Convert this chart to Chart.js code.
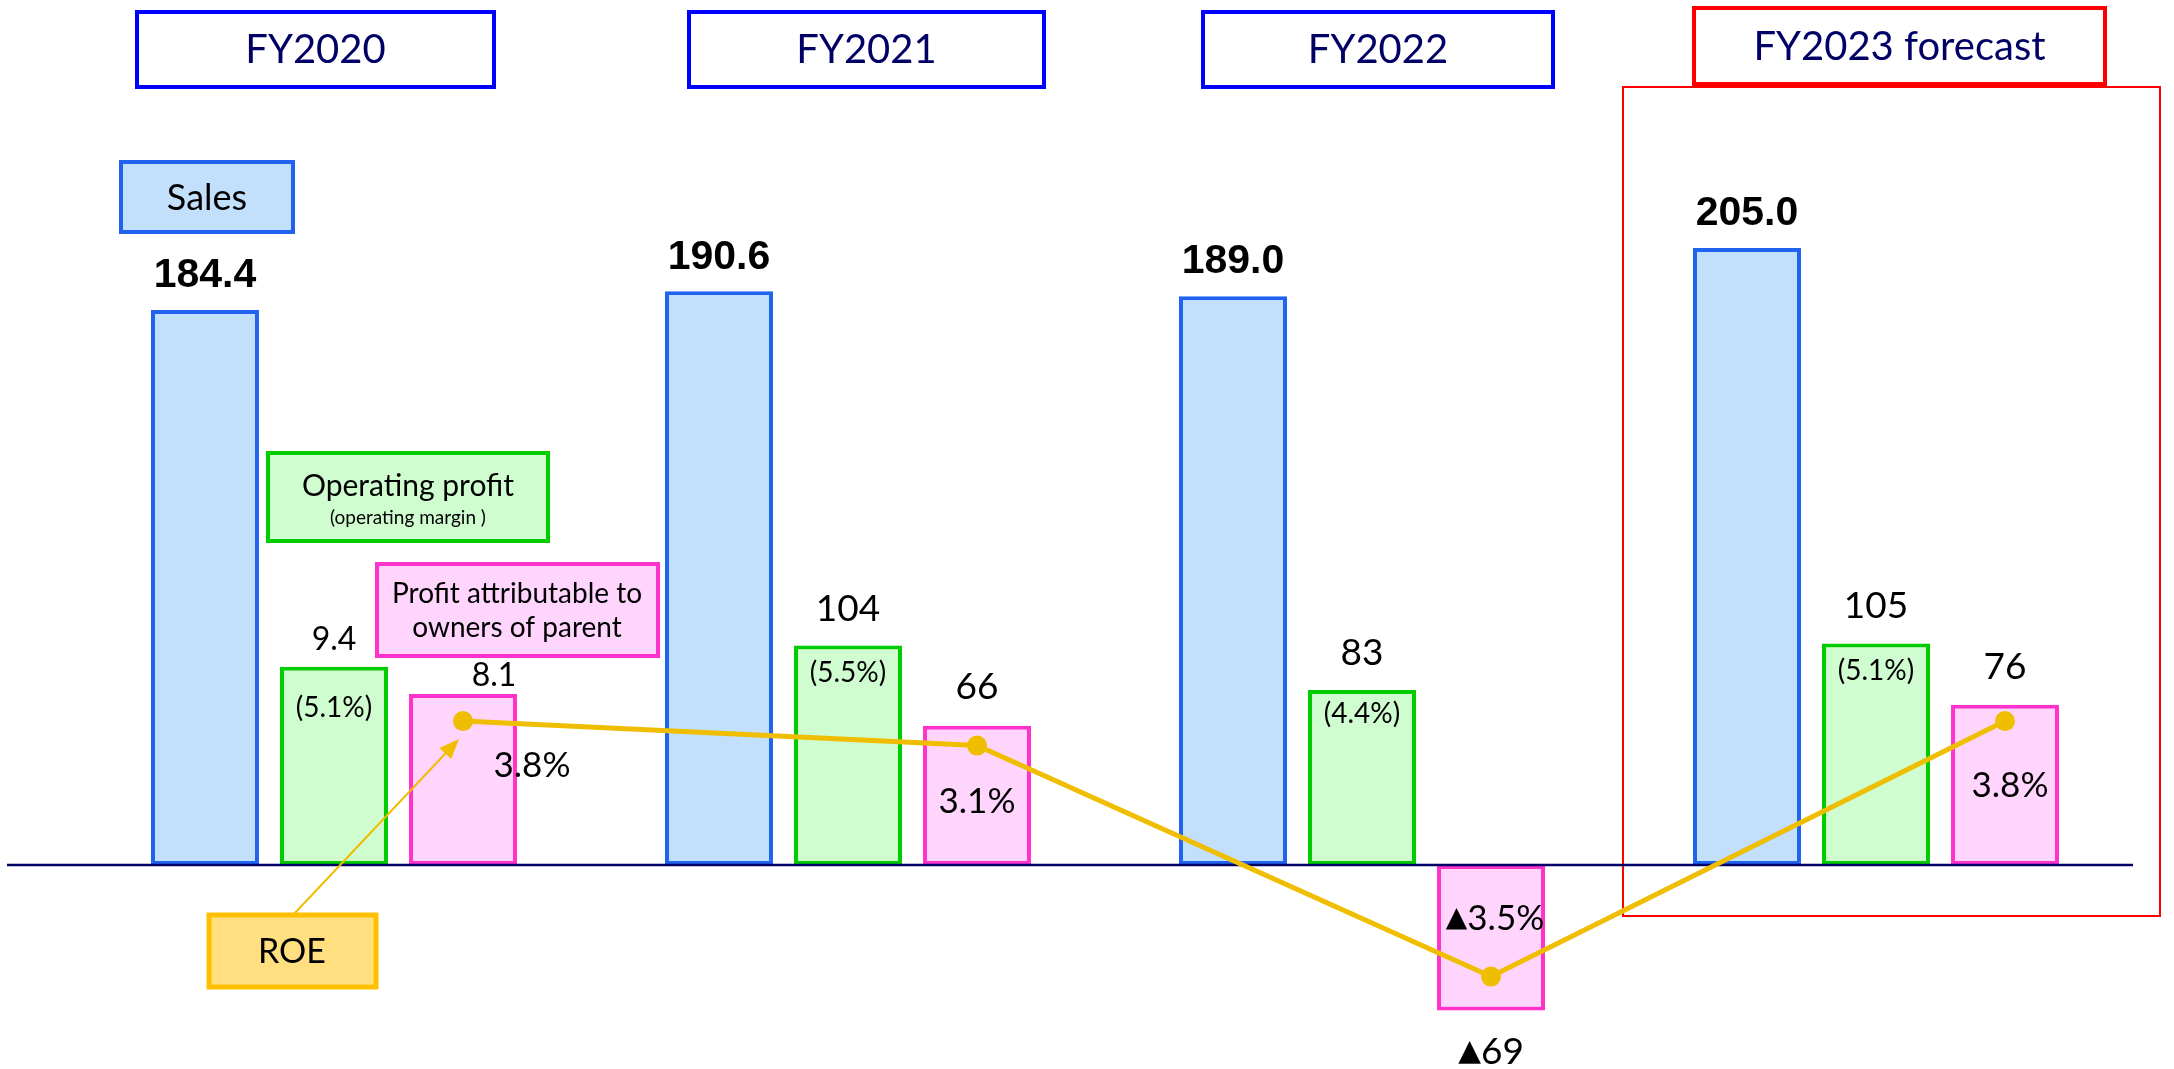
<!DOCTYPE html>
<html>
<head>
<meta charset="utf-8">
<title>Results FY2020 - FY2023</title>
<script src="https://cdn.jsdelivr.net/npm/chart.js@4.4.0/dist/chart.umd.min.js"></script>
<style>
    html, body { margin: 0; padding: 0; background: #ffffff; overflow: hidden; }
    #wrap { position: relative; width: 2174px; height: 1069px; }
</style>
</head>
<body>
<div id="wrap"><canvas id="resultsChart"></canvas></div>
<script>
// Chart data
const categories = ['FY2020', 'FY2021', 'FY2022', 'FY2023 forecast'];
const sales = [184.4, 190.6, 189.0, 205.0];
const operatingProfit = [94, 104, 83, 105];
const operatingProfitLabels = ['9.4', '104', '83', '105'];
const operatingMargin = ['(5.1%)', '(5.5%)', '(4.4%)', '(5.1%)'];
const netProfit = [81, 66, -69, 76];
const netProfitLabels = ['8.1', '66', '▲69', '76'];
const roe = [3.8, 3.1, -3.5, 3.8];
const roeLabels = ['3.8%', '3.1%', '▲3.5%', '3.8%'];

// Colours
const colors = {
    salesFill: '#C2DFFB',
    salesLine: '#1F63F0',
    opFill: '#D0FDD0',
    opLine: '#00CC00',
    netFill: '#FFD5FD',
    netLine: '#FF33CC',
    roe: '#F0BE00',
    roeBox: '#FFDF80',
    roeBoxLine: '#FFC000',
    navy: '#000066',
    titleBlue: '#0000FF',
    red: '#FF0000'
};

// label placement (styling only)
const opValueDy = [-27, -37, -37, -37];
const opValueSize = [32, 37, 37, 37];
const opMarginDy = [41, 27, 24, 28];
const netValueDx = [31, 0, 0, 0];
const netValueDy = [-18, -39, 42, -38];
const netValueSize = [32, 37, 37, 37];
const roeLabelDx = [69, 0, 4, 5];
const roeLabelDy = [45, 56, -58, 65];

const CAT_PCT = 0.753;
const BAR_PCT = 0.837;
// ROE points sit on the centre of the third bar of each group
const roeShift = CAT_PCT / 3;

// scale ranges (pin them so no tick rounding moves the zero line)
function pinRange(min, max) {
    return function (scale) {
        scale.min = min;
        scale.max = max;
    };
}

function drawBox(ctx, x1, y1, x2, y2, fill, stroke, lw) {
    ctx.save();
    if (fill) {
        ctx.fillStyle = fill;
        ctx.fillRect(x1, y1, x2 - x1, y2 - y1);
    }
    ctx.strokeStyle = stroke;
    ctx.lineWidth = lw;
    ctx.strokeRect(x1, y1, x2 - x1, y2 - y1);
    ctx.restore();
}

// centred text; a leading ▲ is drawn with DejaVu Sans and kept tight
function drawText(ctx, text, x, y, size, color, weight) {
    const main = (weight || '') + ' ' + size + 'px Lato, sans-serif';
    const sym = size * 0.8 + 'px "DejaVu Sans", sans-serif';
    ctx.save();
    ctx.fillStyle = color || '#000';
    ctx.textBaseline = 'middle';
    ctx.textAlign = 'left';
    let head = '';
    let rest = text;
    if (text.charAt(0) === '▲') {
        head = '▲';
        rest = text.slice(1);
    }
    ctx.font = sym;
    const wHead = head ? ctx.measureText(head).width : 0;
    ctx.font = main;
    const wRest = ctx.measureText(rest).width;
    let left = x - (wHead + wRest) / 2;
    if (head) {
        ctx.font = sym;
        ctx.fillText(head, left, y);
        left += wHead;
        ctx.font = main;
    }
    ctx.fillText(rest, left, y);
    ctx.restore();
}

const decorPlugin = {
    id: 'decor',
    beforeDatasetsDraw(chart) {
        // forecast frame
        drawBox(chart.ctx, 1623, 87, 2160, 916, null, colors.red, 2);
    },
    beforeDatasetDraw(chart, args) {
        // zero line drawn above bars, below ROE line
        if (args.index !== 0) return;
        const ctx = chart.ctx;
        const y0 = chart.scales.yProfit.getPixelForValue(0);
        ctx.save();
        ctx.strokeStyle = colors.navy;
        ctx.lineWidth = 2.5;
        ctx.beginPath();
        ctx.moveTo(7, y0);
        ctx.lineTo(chart.chartArea.right, y0);
        ctx.stroke();
        ctx.restore();
    },
    afterDatasetsDraw(chart) {
        const ctx = chart.ctx;

        chart.getDatasetMeta(1).data.forEach((bar, i) => {
            ctx.save();
            ctx.font = 'bold 41px "Liberation Sans", Arial, sans-serif';
            ctx.fillStyle = '#000';
            ctx.textAlign = 'center';
            ctx.textBaseline = 'middle';
            ctx.fillText(sales[i].toFixed(1), bar.x, bar.y - 34);
            ctx.restore();
        });
        chart.getDatasetMeta(2).data.forEach((bar, i) => {
            drawText(ctx, operatingProfitLabels[i], bar.x, bar.y + opValueDy[i], opValueSize[i]);
            drawText(ctx, operatingMargin[i], bar.x, bar.y + opMarginDy[i], 28);
        });
        chart.getDatasetMeta(3).data.forEach((bar, i) => {
            drawText(ctx, netProfitLabels[i], bar.x + netValueDx[i], bar.y + netValueDy[i], netValueSize[i]);
        });
        chart.getDatasetMeta(0).data.forEach((pt, i) => {
            drawText(ctx, roeLabels[i], pt.x + roeLabelDx[i], pt.y + roeLabelDy[i], 35);
        });
    },
    afterDraw(chart) {
        const ctx = chart.ctx;

        // year headers
        const heads = [
            [137, 12, 494, 87, colors.titleBlue],
            [689, 12, 1044, 87, colors.titleBlue],
            [1203, 12, 1553, 87, colors.titleBlue],
            [1694, 8, 2105, 84, colors.red]
        ];
        heads.forEach((h, i) => {
            drawBox(ctx, h[0], h[1], h[2], h[3], '#ffffff', h[4], 4);
            drawText(ctx, categories[i], (h[0] + h[2]) / 2, (h[1] + h[3]) / 2 + 1, 40, colors.navy);
        });

        // series tags
        drawBox(ctx, 121, 162, 293, 232, colors.salesFill, colors.salesLine, 4);
        drawText(ctx, 'Sales', 207, 198, 36);

        drawBox(ctx, 268, 453, 548, 541, colors.opFill, colors.opLine, 4);
        drawText(ctx, 'Operating profit', 408, 486, 30);
        drawText(ctx, '(operating margin )', 408, 518, 19);

        drawBox(ctx, 377, 564, 658, 656, colors.netFill, colors.netLine, 4);
        drawText(ctx, 'Profit attributable to', 517, 594, 28);
        drawText(ctx, 'owners of parent', 517, 628, 28);

        // ROE tag with arrow to the first point
        const p0 = chart.getDatasetMeta(0).data[0];
        const sx = 293, sy = 915;
        const tx = p0.x - 4, ty = p0.y + 18;
        const ang = Math.atan2(ty - sy, tx - sx);
        ctx.save();
        ctx.strokeStyle = colors.roe;
        ctx.fillStyle = colors.roe;
        ctx.lineWidth = 2;
        ctx.beginPath();
        ctx.moveTo(sx, sy);
        ctx.lineTo(tx - 14 * Math.cos(ang), ty - 14 * Math.sin(ang));
        ctx.stroke();
        ctx.beginPath();
        ctx.moveTo(tx, ty);
        ctx.lineTo(tx - 20 * Math.cos(ang) + 8 * Math.sin(ang), ty - 20 * Math.sin(ang) - 8 * Math.cos(ang));
        ctx.lineTo(tx - 20 * Math.cos(ang) - 8 * Math.sin(ang), ty - 20 * Math.sin(ang) + 8 * Math.cos(ang));
        ctx.closePath();
        ctx.fill();
        ctx.restore();

        drawBox(ctx, 209, 915, 376, 987, colors.roeBox, colors.roeBoxLine, 5);
        drawText(ctx, 'ROE', 292, 952, 34);
    }
};

const byIndex = (arr, shift) => arr.map((v, i) => ({ x: i + (shift || 0), y: v }));

new Chart(document.getElementById('resultsChart'), {
    type: 'bar',
    data: {
        datasets: [
            {
                type: 'line',
                label: 'ROE',
                data: byIndex(roe, roeShift),
                yAxisID: 'yRoe',
                borderColor: colors.roe,
                backgroundColor: colors.roe,
                borderWidth: 5,
                pointRadius: 10,
                pointHoverRadius: 10,
                pointBorderWidth: 0,
                tension: 0,
                order: 0
            },
            {
                label: 'Sales',
                data: byIndex(sales),
                yAxisID: 'ySales',
                backgroundColor: colors.salesFill,
                borderColor: colors.salesLine,
                borderWidth: 4,
                borderSkipped: false,
                order: 1
            },
            {
                label: 'Operating profit',
                data: byIndex(operatingProfit),
                yAxisID: 'yProfit',
                backgroundColor: colors.opFill,
                borderColor: colors.opLine,
                borderWidth: 4,
                borderSkipped: false,
                order: 1
            },
            {
                label: 'Profit attributable to owners of parent',
                data: byIndex(netProfit),
                yAxisID: 'yProfit',
                backgroundColor: colors.netFill,
                borderColor: colors.netLine,
                borderWidth: 4,
                borderSkipped: false,
                order: 1
            }
        ]
    },
    options: {
        responsive: true,
        maintainAspectRatio: false,
        animation: false,
        events: [],
        layout: { autoPadding: false, padding: { left: 77, right: 41, top: 0, bottom: 0 } },
        datasets: {
            bar: { categoryPercentage: CAT_PCT, barPercentage: BAR_PCT }
        },
        plugins: {
            legend: { display: false },
            tooltip: { enabled: false },
            title: { display: false }
        },
        scales: {
            x: {
                type: 'linear',
                display: false,
                offset: false,
                min: -0.5,
                max: 3.5,
                afterBuildTicks(scale) {
                    scale.ticks = categories.map((c, i) => ({ value: i }));
                    scale.min = -0.5;
                    scale.max = 3.5;
                }
            },
            ySales: { type: 'linear', display: false, afterBuildTicks: pinRange(-67.8, 287.4) },
            yProfit: { type: 'linear', display: false, afterBuildTicks: pinRange(-96.7, 410) },
            yRoe: { type: 'linear', display: false, afterBuildTicks: pinRange(-6.14, 24.4) }
        }
    },
    plugins: [decorPlugin]
});
</script>
</body>
</html>
